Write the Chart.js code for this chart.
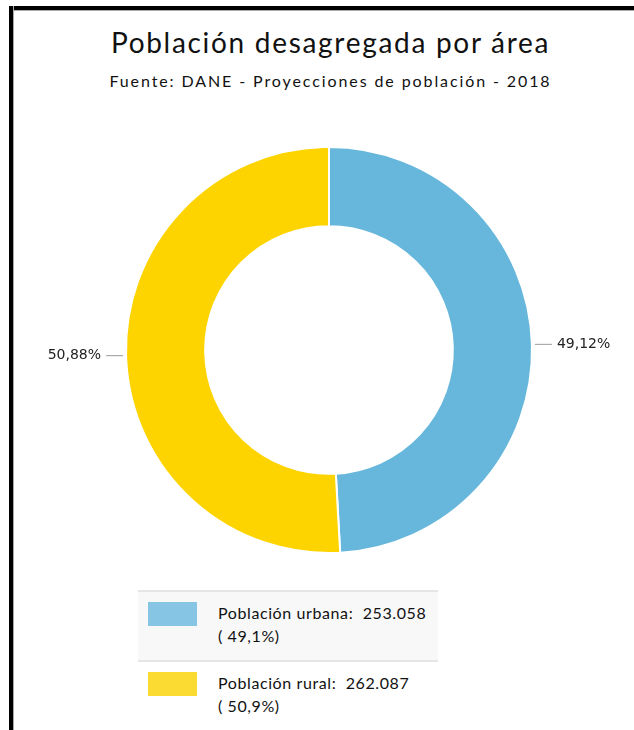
<!DOCTYPE html>
<html lang="es">
<head>
    <meta charset="utf-8">
    <script src="https://cdn.jsdelivr.net/npm/chart.js@4.4.1/dist/chart.umd.min.js"></script>
    <style>
        html, body { margin: 0; padding: 0; background: #fff; }
        body { width: 634px; height: 730px; position: relative; overflow: hidden; font-family: Lato, "Open Sans", sans-serif; color: #111; }
        .frame-top { position: absolute; left: 9px; top: 6px; right: 0; height: 4px; background: #000; box-shadow: 0 1px 0 #aaa; }
        .frame-left { position: absolute; left: 9px; top: 6px; width: 4px; bottom: 0; background: #000; box-shadow: 1px 0 0 #aaa; }
        #title { position: absolute; left: 13px; right: 0; top: 25px; text-align: center; font-size: 28px; line-height: 34px; padding-left: 14px; letter-spacing: 1.7px; }
        #subtitle { position: absolute; left: 13px; right: 0; top: 71px; text-align: center; font-size: 16px; line-height: 20px; padding-left: 14px; letter-spacing: 1.9px; }
        .chart-box { position: absolute; left: 13px; top: 136px; width: 621px; height: 428px; }
        #legend { position: absolute; left: 138px; top: 590px; width: 300px; }
        .leg-row { height: 68px; border-top: 2px solid #e6e6e6; position: relative; }
        .leg-row.alt { background: #f8f8f8; }
        .leg-sw { position: absolute; left: 10px; top: 10px; width: 49px; height: 24px; }
        .leg-txt { position: absolute; left: 80px; top: 9px; font-size: 16px; line-height: 23px; white-space: pre; letter-spacing: 0.6px; }
    </style>
</head>
<body>
<div class="frame-top"></div>
<div class="frame-left"></div>

<div id="title">Población desagregada por área</div>
<div id="subtitle">Fuente: DANE - Proyecciones de población - 2018</div>

<div class="chart-box">
    <canvas id="chart-area"></canvas>
</div>

<div id="legend"></div>

<script type="text/javascript">
    // datos
    var categorias = ["Población urbana", "Población rural"];
    var poblacion = [253058, 262087];
    var colores = ["#67b7dc", "#fdd400"];
    var coloresLeyenda = ["#86c5e3", "#fbda31"];

    var total = poblacion.reduce(function (a, b) { return a + b; }, 0);

    function miles(n) {
        return String(n).replace(/\B(?=(\d{3})+(?!\d))/g, ".");
    }
    function pct(n, dec) {
        return (n / total * 100).toFixed(dec).replace(".", ",") + "%";
    }

    // etiquetas con linea guia fuera de cada porcion
    var etiquetas = {
        id: 'etiquetas',
        afterDatasetsDraw: function (chart) {
            var ctx = chart.ctx;
            var meta = chart.getDatasetMeta(0);
            ctx.save();
            ctx.font = "14px 'DejaVu Sans', Verdana, sans-serif";
            ctx.textBaseline = "middle";
            meta.data.forEach(function (arc, i) {
                var p = arc.getProps(['x', 'y', 'startAngle', 'endAngle', 'outerRadius'], true);
                var mid = (p.startAngle + p.endAngle) / 2;
                var x0 = p.x + Math.cos(mid) * (p.outerRadius + 3);
                var y0 = p.y + Math.sin(mid) * (p.outerRadius + 3);
                var dir = Math.cos(mid) >= 0 ? 1 : -1;
                var x1 = x0 + dir * 17;
                ctx.strokeStyle = "#9a9a9a";
                ctx.lineWidth = 1;
                ctx.beginPath();
                ctx.moveTo(x0, y0);
                ctx.lineTo(x1, y0);
                ctx.stroke();
                ctx.fillStyle = "#222";
                ctx.textAlign = dir > 0 ? "left" : "right";
                ctx.fillText(pct(poblacion[i], 2), x1 + dir * 5, y0);
            });
            ctx.restore();
        }
    };

    new Chart(document.getElementById("chart-area"), {
        type: 'doughnut',
        data: {
            labels: categorias,
            datasets: [{
                data: poblacion,
                backgroundColor: colores,
                borderColor: "#ffffff",
                borderWidth: 2,
                hoverOffset: 0
            }]
        },
        options: {
            responsive: true,
            maintainAspectRatio: false,
            animation: false,
            cutout: '61%',
            layout: {
                padding: { top: 10, bottom: 10, left: 11, right: 0 }
            },
            plugins: {
                legend: { display: false },
                tooltip: { enabled: false }
            }
        },
        plugins: [etiquetas]
    });

    // leyenda
    var leyenda = document.getElementById("legend");
    for (var i = 0; i < categorias.length; i++) {
        var row = document.createElement("div");
        row.className = "leg-row" + (i % 2 === 0 ? " alt" : "");
        row.innerHTML = '<div class="leg-sw" style="background:' + coloresLeyenda[i] + '"></div>' +
            '<div class="leg-txt">' + categorias[i] + ':  ' + miles(poblacion[i]) + '\n( ' + pct(poblacion[i], 1) + ')</div>';
        leyenda.appendChild(row);
    }
</script>
</body>
</html>
